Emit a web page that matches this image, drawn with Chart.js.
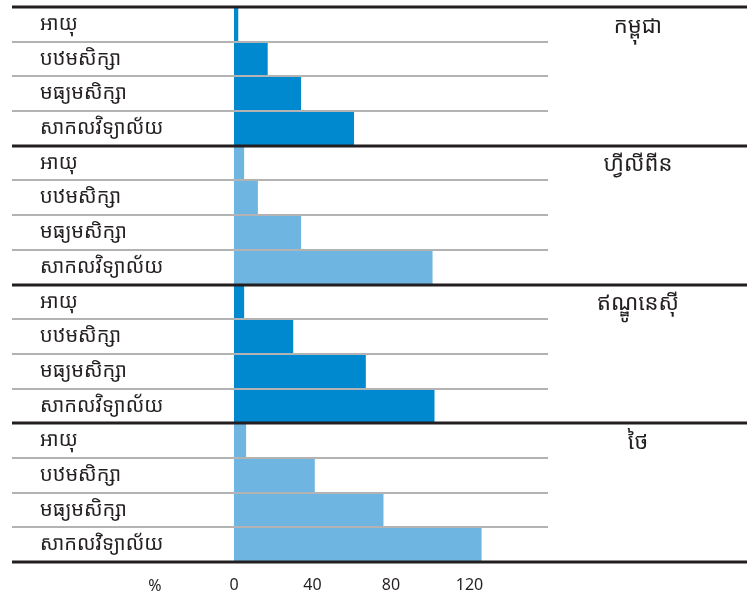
<!DOCTYPE html>
<html>
<head>
<meta charset="utf-8">
<script src="https://cdn.jsdelivr.net/npm/chart.js@4/dist/chart.umd.min.js"></script>
<style>
html,body{margin:0;padding:0;background:#fff;}
#wrap{width:747px;height:596px;position:relative;}
</style>
</head>
<body>
<div id="wrap"><canvas id="c" width="747" height="596"></canvas></div>
<script>
const groups = ['កម្ពុជា', 'ហ្វីលីពីន', 'ឥណ្ឌូនេស៊ី', 'ថៃ'];
const levels = ['អាយុ', 'បឋមសិក្សា', 'មធ្យមសិក្សា', 'សាកលវិទ្យាល័យ'];
const cambodia    = [2, 17, 34, 61];
const philippines = [5, 12, 34, 101];
const indonesia   = [5, 30, 67, 102];
const thailand    = [6, 41, 76, 126];
const xTicks = [0, 40, 80, 120];
const unitLabel = '%';
const groupColors = ['#0089cf', '#6fb5e1', '#0089cf', '#6fb5e1'];

const FONT = "'Noto Sans Khmer','Khmer OS','Noto Sans','DejaVu Sans',sans-serif";

const seriesByGroup = [cambodia, philippines, indonesia, thailand];
const labels = [];
const values = [];
const colors = [];
groups.forEach((g, gi) => {
  levels.forEach((l, li) => {
    labels.push(l);
    values.push(seriesByGroup[gi][li]);
    colors.push(groupColors[gi]);
  });
});

const decor = {
  id: 'decor',
  afterDatasetsDraw(chart) {
    const ctx = chart.ctx;
    const y = chart.scales.y;
    const x = chart.scales.x;
    const n = labels.length;
    const half = (y.getPixelForValue(1) - y.getPixelForValue(0)) / 2;
    ctx.save();
    for (let i = 0; i <= n; i++) {
      const py = Math.round(i < n ? y.getPixelForValue(i) - half : y.getPixelForValue(n - 1) + half);
      if (i % levels.length === 0) {
        ctx.strokeStyle = '#231f20';
        ctx.lineWidth = 3;
        ctx.beginPath();
        ctx.moveTo(12, py);
        ctx.lineTo(747, py);
        ctx.stroke();
      } else {
        ctx.strokeStyle = '#b3b3b3';
        ctx.lineWidth = 2;
        ctx.beginPath();
        ctx.moveTo(12, py);
        ctx.lineTo(x.right, py);
        ctx.stroke();
      }
    }
    ctx.fillStyle = '#231f20';
    ctx.font = '22px ' + FONT;
    ctx.textAlign = 'center';
    ctx.textBaseline = 'middle';
    groups.forEach((g, gi) => {
      const py = y.getPixelForValue(gi * levels.length) + 2;
      ctx.fillText(g, 638, py);
    });
    ctx.font = '16px ' + FONT;
    ctx.fillStyle = '#231f20';
    ctx.fillText(unitLabel, 155, 586);
    ctx.restore();
  }
};

new Chart(document.getElementById('c'), {
  type: 'bar',
  data: {
    labels: labels,
    datasets: [{
      data: values,
      backgroundColor: colors,
      borderWidth: 0,
      barPercentage: 1,
      categoryPercentage: 1
    }]
  },
  options: {
    indexAxis: 'y',
    responsive: false,
    animation: false,
    devicePixelRatio: 1,
    layout: { padding: { left: 40, top: 7, right: 199, bottom: 0 } },
    plugins: { legend: { display: false }, tooltip: { enabled: false } },
    scales: {
      x: {
        min: 0, max: 160,
        afterBuildTicks: s => { s.ticks = xTicks.map(v => ({ value: v })); },
        grid: { display: false, drawTicks: false },
        border: { display: false },
        ticks: { color: '#231f20', font: { size: 16, family: FONT }, padding: 14, maxRotation: 0 },
        afterFit: s => { s.height = 34; s.paddingLeft = 0; s.paddingRight = 0; }
      },
      y: {
        grid: { display: false, drawTicks: false },
        border: { display: false },
        ticks: { color: '#231f20', crossAlign: 'far', autoSkip: false, font: { size: 20, family: FONT }, padding: 0 },
        afterFit: s => { s.width = 194; s.paddingTop = 0; s.paddingBottom = 0; }
      }
    }
  },
  plugins: [decor]
});
</script>
</body>
</html>
